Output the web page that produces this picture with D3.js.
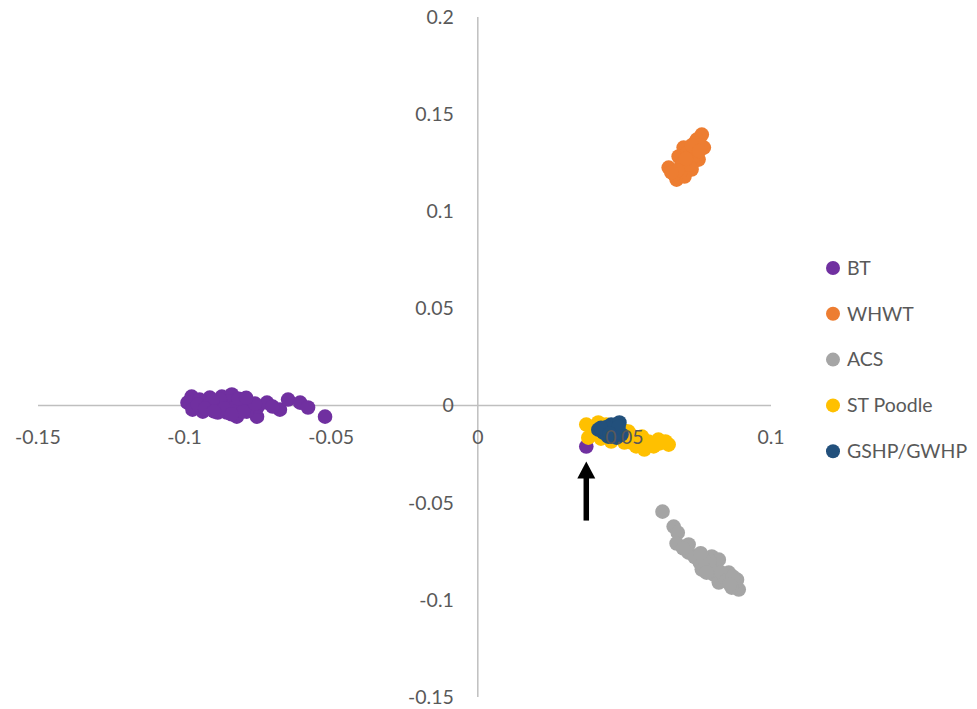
<!DOCTYPE html>
<html>
<head>
<meta charset="utf-8">
<script src="https://cdn.jsdelivr.net/npm/d3@7"></script>
<style>
  html, body { margin: 0; padding: 0; background: #ffffff; }
  svg { display: block; }
  text { font-family: "Lato", "Open Sans", sans-serif; fill: #595959; }
</style>
</head>
<body>
<svg id="chart" width="977" height="709"></svg>
<script>
// Axis ticks
const xTicks = [-0.15, -0.1, -0.05, 0, 0.05, 0.1];
const yTicks = [-0.15, -0.1, -0.05, 0, 0.05, 0.1, 0.15, 0.2];

// Series (PC1, PC2) per breed group
const seriesNames = ["BT", "WHWT", "ACS", "ST Poodle", "GSHP/GWHP"];
const seriesColors = ["#7030A0", "#ED7D31", "#A5A5A5", "#FFC000", "#22507C"];

const btPoints = [
  [-0.0976, 0.0046], [-0.0990, 0.0015], [-0.0973, -0.0021], [-0.0938, -0.0031],
  [-0.0914, 0.0041], [-0.0873, 0.0046], [-0.0839, 0.0057], [-0.0856, -0.0036],
  [-0.0822, -0.0057], [-0.0805, 0.0021], [-0.0777, 0.0005], [-0.0753, -0.0057],
  [-0.0750, -0.0005], [-0.0719, 0.0015], [-0.0675, -0.0021], [-0.0647, 0.0031],
  [-0.0606, 0.0015], [-0.0579, -0.0010], [-0.0521, -0.0057], [-0.0949, 0.0031],
  [-0.0897, -0.0005], [-0.0812, -0.0021], [-0.0887, -0.0036], [-0.0788, -0.0031],
  [-0.0955, 0.0005], [-0.0920, 0.0000], [-0.0850, 0.0020], [-0.0830, -0.0010],
  [-0.0880, 0.0030], [-0.0800, -0.0030], [-0.0905, 0.0025], [-0.0865, -0.0015],
  [-0.0815, 0.0035], [-0.0760, 0.0010], [-0.0930, -0.0015], [-0.0840, -0.0045],
  [-0.0900, -0.0030], [-0.0790, 0.0040], [-0.0700, -0.0005], [0.0370, -0.0211]
];
const whwtPoints = [
  [0.0764, 0.1395], [0.0747, 0.1369], [0.0771, 0.1328], [0.0702, 0.1328],
  [0.0753, 0.1266], [0.0685, 0.1282], [0.0729, 0.1215], [0.0651, 0.1225],
  [0.0678, 0.1163], [0.0705, 0.1179], [0.0723, 0.1276], [0.0736, 0.1318],
  [0.0695, 0.1240], [0.0715, 0.1300], [0.0690, 0.1200], [0.0740, 0.1350],
  [0.0670, 0.1190], [0.0700, 0.1250], [0.0720, 0.1240], [0.0745, 0.1290],
  [0.0760, 0.1340], [0.0710, 0.1270], [0.0680, 0.1210], [0.0660, 0.1200],
  [0.0730, 0.1340], [0.0755, 0.1310]
];
const acsPoints = [
  [0.0630, -0.0546], [0.0668, -0.0623], [0.0682, -0.0654], [0.0678, -0.0710],
  [0.0719, -0.0715], [0.0719, -0.0757], [0.0757, -0.0808], [0.0798, -0.0777],
  [0.0822, -0.0793], [0.0764, -0.0844], [0.0805, -0.0870], [0.0822, -0.0911],
  [0.0856, -0.0860], [0.0884, -0.0896], [0.0890, -0.0947], [0.0866, -0.0937],
  [0.0780, -0.0820], [0.0815, -0.0840], [0.0840, -0.0880], [0.0790, -0.0800],
  [0.0700, -0.0735], [0.0740, -0.0780], [0.0770, -0.0790], [0.0800, -0.0850],
  [0.0830, -0.0860], [0.0850, -0.0900], [0.0870, -0.0880], [0.0760, -0.0760],
  [0.0780, -0.0860], [0.0860, -0.0920]
];
const poodlePoints = [
  [0.0370, -0.0098], [0.0377, -0.0165], [0.0411, -0.0087], [0.0514, -0.0134],
  [0.0548, -0.0185], [0.0582, -0.0185], [0.0616, -0.0175], [0.0651, -0.0201],
  [0.0568, -0.0226], [0.0524, -0.0190], [0.0455, -0.0185], [0.0490, -0.0165],
  [0.0438, -0.0098], [0.0473, -0.0113], [0.0400, -0.0140], [0.0600, -0.0210],
  [0.0530, -0.0160], [0.0560, -0.0160], [0.0590, -0.0200], [0.0620, -0.0195],
  [0.0640, -0.0185], [0.0500, -0.0190], [0.0420, -0.0170], [0.0390, -0.0120],
  [0.0540, -0.0210], [0.0500, -0.0130]
];
const gshpPoints = [
  [0.0411, -0.0124], [0.0455, -0.0098], [0.0483, -0.0087], [0.0490, -0.0149],
  [0.0445, -0.0160], [0.0428, -0.0139], [0.0473, -0.0165], [0.0462, -0.0124],
  [0.0440, -0.0110], [0.0470, -0.0140], [0.0480, -0.0110], [0.0420, -0.0115],
  [0.0450, -0.0145]
];
const seriesPoints = [btPoints, whwtPoints, acsPoints, poodlePoints, gshpPoints];

// Highlighted sample (arrow target)
const markedPoint = [0.0370, -0.0211];

const svg = d3.select("#chart");

const x = d3.scaleLinear().domain([-0.15, 0.1]).range([38, 771]);
const y = d3.scaleLinear().domain([-0.15, 0.2]).range([697, 17]);

// Axis lines crossing at the origin
svg.append("line")
  .attr("x1", x(-0.15)).attr("x2", x(0.1))
  .attr("y1", y(0)).attr("y2", y(0))
  .attr("stroke", "#BFBFBF").attr("stroke-width", 1.5);
svg.append("line")
  .attr("x1", x(0)).attr("x2", x(0))
  .attr("y1", y(0.2)).attr("y2", y(-0.15))
  .attr("stroke", "#BFBFBF").attr("stroke-width", 1.5);

// Points
const r = 7.3;
seriesPoints.forEach((pts, i) => {
  svg.append("g")
    .selectAll("circle")
    .data(pts)
    .join("circle")
    .attr("cx", d => x(d[0]))
    .attr("cy", d => y(d[1]))
    .attr("r", r)
    .attr("fill", seriesColors[i]);
});

// Tick labels (drawn over the markers)
const fmt = v => (v === 0 ? "0" : String(+v.toFixed(2)));
svg.append("g").selectAll("text")
  .data(xTicks)
  .join("text")
  .attr("x", d => x(d))
  .attr("y", y(0) + 32)
  .attr("dy", "0.35em")
  .attr("text-anchor", "middle")
  .attr("font-size", 19.5)
  .text(fmt);
svg.append("g").selectAll("text")
  .data(yTicks)
  .join("text")
  .attr("x", x(0) - 24)
  .attr("y", d => y(d))
  .attr("dy", "0.35em")
  .attr("text-anchor", "end")
  .attr("font-size", 19.5)
  .text(fmt);

// Arrow pointing at the highlighted sample
const ax = x(markedPoint[0]);
const tipY = y(markedPoint[1]) + 15;
const arrow = svg.append("g").attr("fill", "#000");
arrow.append("rect")
  .attr("x", ax - 2.75).attr("y", tipY + 14)
  .attr("width", 5.5).attr("height", 45);
arrow.append("path")
  .attr("d", `M${ax},${tipY} L${ax + 9},${tipY + 17} L${ax - 9},${tipY + 17} Z`);

// Legend
const legend = svg.append("g");
seriesNames.forEach((name, i) => {
  const ly = 268 + i * 45.8;
  legend.append("circle")
    .attr("cx", 833).attr("cy", ly).attr("r", 7)
    .attr("fill", seriesColors[i]);
  legend.append("text")
    .attr("x", 847).attr("y", ly)
    .attr("dy", "0.35em")
    .attr("font-size", 19.5)
    .text(name);
});
</script>
</body>
</html>
